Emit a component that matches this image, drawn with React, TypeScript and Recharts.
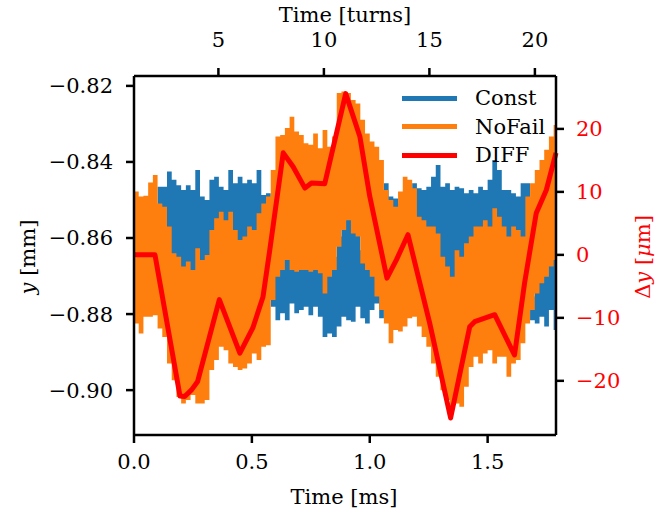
import React from "react";
import {
  ComposedChart,
  Area,
  Line,
  XAxis,
  YAxis,
} from "recharts";

// sample times [ms] for the two noisy signals (envelope)
const time = [
  0, 0.02, 0.04, 0.06, 0.08, 0.1, 0.12, 0.14, 0.16, 0.18,
  0.2, 0.22, 0.24, 0.26, 0.28, 0.3, 0.32, 0.34, 0.36, 0.38,
  0.4, 0.42, 0.44, 0.46, 0.48, 0.5, 0.52, 0.54, 0.56, 0.58,
  0.6, 0.62, 0.64, 0.66, 0.68, 0.7, 0.72, 0.74, 0.76, 0.78,
  0.8, 0.82, 0.84, 0.86, 0.88, 0.9, 0.92, 0.94, 0.96, 0.98,
  1.0, 1.02, 1.04, 1.06, 1.08, 1.1, 1.12, 1.14, 1.16, 1.18,
  1.2, 1.22, 1.24, 1.26, 1.28, 1.3, 1.32, 1.34, 1.36, 1.38,
  1.4, 1.42, 1.44, 1.46, 1.48, 1.5, 1.52, 1.54, 1.56, 1.58,
  1.6, 1.62, 1.64, 1.66, 1.68, 1.7, 1.72, 1.74, 1.76, 1.78,
  1.79,
];

// Const [mm]: upper / lower envelope
const constHi = [
  -0.8526, -0.8535, -0.8518, -0.8526, -0.8526, -0.8465, -0.8465, -0.8425, -0.8447, -0.8461,
  -0.8474, -0.8461, -0.8474, -0.8421, -0.8491, -0.85, -0.8447, -0.8439, -0.8465, -0.8474,
  -0.8421, -0.8456, -0.8439, -0.8456, -0.8447, -0.8456, -0.8421, -0.8487, -0.8482, -0.8649,
  -0.8649, -0.864, -0.8632, -0.8649, -0.8649, -0.8649, -0.8649, -0.8649, -0.8649, -0.8658,
  -0.8684, -0.8667, -0.8649, -0.8596, -0.8553, -0.8535, -0.8553, -0.857, -0.8632, -0.8649,
  -0.8667, -0.8684, -0.8491, -0.8456, -0.8491, -0.8496, -0.8509, -0.8509, -0.8474, -0.8456,
  -0.8469, -0.8474, -0.8465, -0.8439, -0.8408, -0.8465, -0.8456, -0.8474, -0.8465, -0.8469,
  -0.8482, -0.8474, -0.8482, -0.8465, -0.8474, -0.8447, -0.8395, -0.8421, -0.8474, -0.8474,
  -0.8482, -0.8491, -0.8456, -0.8456, -0.8754, -0.8711, -0.8684, -0.8667, -0.8649, -0.8632,
  -0.8632,
];
const constLo = [
  -0.8632, -0.8632, -0.8632, -0.8632, -0.8632, -0.8728, -0.8728, -0.8728, -0.8728, -0.8728,
  -0.8728, -0.8728, -0.8728, -0.8728, -0.8728, -0.8728, -0.8728, -0.8728, -0.8728, -0.8728,
  -0.8728, -0.8728, -0.8728, -0.8728, -0.8728, -0.8728, -0.8728, -0.8728, -0.8728, -0.8781,
  -0.8816, -0.8798, -0.8816, -0.8772, -0.8798, -0.8789, -0.8781, -0.8803, -0.8781, -0.8807,
  -0.886, -0.8851, -0.886, -0.8833, -0.8807, -0.8816, -0.882, -0.8781, -0.8811, -0.8825,
  -0.8789, -0.8772, -0.8811, -0.8684, -0.8684, -0.8684, -0.8684, -0.8684, -0.8667, -0.8649,
  -0.8649, -0.8649, -0.8667, -0.8667, -0.8684, -0.8702, -0.8719, -0.8746, -0.8711, -0.8711,
  -0.8684, -0.8649, -0.8649, -0.8649, -0.8632, -0.8649, -0.8614, -0.8632, -0.8649, -0.8667,
  -0.8649, -0.8649, -0.8649, -0.8649, -0.8816, -0.8825, -0.8807, -0.8833, -0.8789, -0.8842,
  -0.8842,
];

// NoFail [mm]: upper / lower envelope
const noFailHi = [
  -0.8478, -0.8491, -0.8489, -0.8454, -0.8434, -0.8509, -0.8518, -0.857, -0.864, -0.8649,
  -0.8675, -0.8662, -0.8684, -0.8627, -0.8658, -0.8645, -0.8579, -0.8548, -0.8531, -0.8553,
  -0.8531, -0.8579, -0.8605, -0.8596, -0.857, -0.8579, -0.8535, -0.8509, -0.8491, -0.8421,
  -0.8333, -0.8329, -0.8311, -0.8281, -0.832, -0.8329, -0.8351, -0.8355, -0.8325, -0.8364,
  -0.8316, -0.836, -0.8333, -0.8219, -0.8215, -0.8219, -0.8237, -0.8246, -0.8289, -0.8325,
  -0.8346, -0.836, -0.8395, -0.8474, -0.85, -0.8518, -0.8478, -0.8439, -0.8447, -0.8469,
  -0.8544, -0.8553, -0.857, -0.857, -0.8588, -0.8649, -0.8675, -0.8702, -0.8632, -0.8649,
  -0.8614, -0.8596, -0.857, -0.857, -0.8553, -0.857, -0.8522, -0.8544, -0.857, -0.8596,
  -0.857, -0.8579, -0.8596, -0.8491, -0.8456, -0.8421, -0.8395, -0.8368, -0.8333, -0.8303,
  -0.8303,
];
const noFailLo = [
  -0.8825, -0.8851, -0.8807, -0.8807, -0.8803, -0.8838, -0.886, -0.893, -0.8974, -0.9018,
  -0.9035, -0.9026, -0.9013, -0.9035, -0.9035, -0.9026, -0.8947, -0.8921, -0.8886, -0.8895,
  -0.893, -0.8939, -0.8947, -0.8943, -0.893, -0.8904, -0.8921, -0.8886, -0.8882, -0.8763,
  -0.8702, -0.8684, -0.8658, -0.8684, -0.8689, -0.8684, -0.8684, -0.8689, -0.8684, -0.8693,
  -0.8746, -0.8702, -0.8684, -0.8623, -0.8579, -0.8553, -0.8588, -0.8596, -0.8667, -0.8684,
  -0.8702, -0.8754, -0.8789, -0.8825, -0.8877, -0.8842, -0.8846, -0.8833, -0.8811, -0.8807,
  -0.8833, -0.886, -0.8886, -0.893, -0.8965, -0.9, -0.9026, -0.9044, -0.9035, -0.9044,
  -0.8991, -0.8939, -0.8912, -0.893, -0.8904, -0.8895, -0.893, -0.8912, -0.8912, -0.8965,
  -0.893, -0.8921, -0.8877, -0.8825, -0.8789, -0.8746, -0.8719, -0.8702, -0.8675, -0.8658,
  -0.8658,
];

// DIFF [um], right axis
const diffTime = [
  0, 0.089, 0.195, 0.215, 0.245, 0.27, 0.362, 0.449, 0.504, 0.547,
  0.576, 0.633, 0.675, 0.725, 0.753, 0.809, 0.898, 0.958, 1.0, 1.073,
  1.113, 1.162, 1.212, 1.254, 1.343, 1.424, 1.445, 1.53, 1.614, 1.657,
  1.706, 1.749, 1.79,
];
const diffValues = [
  0, 0, -22.4, -22.5, -21.4, -20.1, -7.1, -15.6, -11.6, -6.7,
  0.8, 16.2, 14.0, 10.6, 11.4, 11.3, 25.6, 18.8, 9.3, -3.7,
  -0.8, 3.2, -4.4, -10.8, -25.9, -11.4, -10.6, -9.5, -15.9, -4.4,
  6.6, 10.3, 16.2,
];

const msTicks = [0, 0.5, 1.0, 1.5];
const turnTicks = [5, 10, 15, 20];
const msPerTurn = 0.0895; // plot starts at turn 1
const yTicks = [-0.9, -0.88, -0.86, -0.84, -0.82];
const dyTicks = [-20, -10, 0, 10, 20];

const legendItems = [
  { name: "Const", color: "#1f77b4" },
  { name: "NoFail", color: "#ff7f0e" },
  { name: "DIFF", color: "#ff0000" },
];

const bandData = time.map((t, i) => ({
  t,
  constRange: [constLo[i], constHi[i]],
  noFailRange: [noFailLo[i], noFailHi[i]],
}));
const diffData = diffTime.map((t, i) => ({ t, diff: diffValues[i] }));

const font = "'DejaVu Serif', 'Liberation Serif', serif";
const minus = (s: string) => s.replace("-", "\u2212");
const axisLine = { stroke: "#000", strokeWidth: 2.5 };
const tickLine = { stroke: "#000", strokeWidth: 2.5 };
const tickStyle = { fill: "#000", fontSize: 21, fontFamily: font };

export default function App() {
  return (
    <div style={{ position: "absolute", left: 0, top: 0, width: 670, height: 512, background: "#fff", fontFamily: font }}>
      <ComposedChart
        width={670}
        height={512}
        data={bandData}
        margin={{ top: 0, right: 0, bottom: 0, left: 0 }}
      >
        <XAxis
          xAxisId="ms"
          dataKey="t"
          type="number"
          domain={[0, 1.79]}
          ticks={msTicks}
          tickFormatter={(v) => v.toFixed(1)}
          height={77}
          tickSize={8}
          tickMargin={11}
          axisLine={axisLine}
          tickLine={tickLine}
          tick={tickStyle}
        />
        <XAxis
          xAxisId="turns"
          orientation="top"
          dataKey="t"
          type="number"
          domain={[0, 1.79]}
          ticks={turnTicks.map((n) => (n - 1) * msPerTurn)}
          tickFormatter={(v) => String(Math.round(v / msPerTurn + 1))}
          height={76}
          tickSize={8}
          tickMargin={21}
          axisLine={axisLine}
          tickLine={tickLine}
          tick={tickStyle}
        />
        <YAxis
          yAxisId="mm"
          type="number"
          domain={[-0.9118, -0.8174]}
          ticks={yTicks}
          tickFormatter={(v) => minus(v.toFixed(2))}
          width={134}
          tickSize={8}
          tickMargin={13}
          axisLine={axisLine}
          tickLine={tickLine}
          tick={tickStyle}
        />
        <YAxis
          yAxisId="um"
          orientation="right"
          type="number"
          domain={[-28.6, 28.4]}
          ticks={dyTicks}
          tickFormatter={(v) => minus(String(v))}
          width={114}
          tickSize={8}
          tickMargin={12}
          axisLine={axisLine}
          tickLine={tickLine}
          tick={{ ...tickStyle, fill: "#ff0000" }}
        />
        <Area
          xAxisId="ms"
          yAxisId="mm"
          type="stepAfter"
          dataKey="constRange"
          stroke="none"
          fill="#1f77b4"
          fillOpacity={1}
          isAnimationActive={false}
        />
        <Area
          xAxisId="ms"
          yAxisId="mm"
          type="stepAfter"
          dataKey="noFailRange"
          stroke="none"
          fill="#ff7f0e"
          fillOpacity={1}
          isAnimationActive={false}
        />
        <Line
          xAxisId="ms"
          yAxisId="um"
          data={diffData}
          dataKey="diff"
          type="linear"
          stroke="#ff0000"
          strokeWidth={5}
          strokeLinejoin="round"
          dot={false}
          isAnimationActive={false}
        />
      </ComposedChart>

      {/* legend */}
      {legendItems.map((item, i) => (
        <div key={item.name}>
          <div
            style={{
              position: "absolute",
              left: 402,
              top: 95.5 + i * 28.5,
              width: 55,
              height: 5,
              background: item.color,
            }}
          />
          <div
            style={{
              position: "absolute",
              left: 475,
              top: 84 + i * 28.5,
              height: 28,
              lineHeight: "28px",
              fontSize: 21,
            }}
          >
            {item.name}
          </div>
        </div>
      ))}

      {/* axis titles */}
      <div style={{ position: "absolute", left: 245, width: 200, top: 0, textAlign: "center", fontSize: 21, lineHeight: "30px" }}>
        Time [turns]
      </div>
      <div style={{ position: "absolute", left: 244, width: 200, top: 482, textAlign: "center", fontSize: 21, lineHeight: "30px" }}>
        Time [ms]
      </div>
      <div
        style={{
          position: "absolute",
          left: 28 - 60,
          top: 257 - 15,
          width: 120,
          textAlign: "center",
          fontSize: 21,
          lineHeight: "30px",
          transform: "rotate(-90deg)",
        }}
      >
        <i>y</i> [mm]
      </div>
      <div
        style={{
          position: "absolute",
          left: 643 - 60,
          top: 257 - 15,
          width: 120,
          textAlign: "center",
          fontSize: 21,
          lineHeight: "30px",
          color: "#ff0000",
          transform: "rotate(-90deg)",
        }}
      >
        Δ<i>y</i> [<i>μ</i>m]
      </div>
    </div>
  );
}
